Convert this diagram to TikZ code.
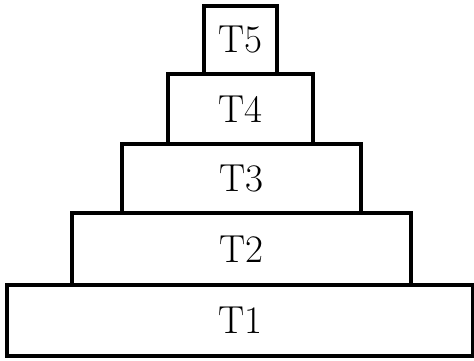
\documentclass[tikz,border=0pt]{standalone}
\usepackage{tikz}
\usetikzlibrary{positioning}
\tikzset{
  tier/.style={rectangle,draw=black,line width=1.6pt,fill=white,
               inner sep=0pt,font=\fontsize{19.5}{23}\selectfont,align=center},
}
\begin{document}
\begin{tikzpicture}[x=0.5pt,y=-0.5pt]

  \useasboundingbox (0,0) rectangle (474,360);

  \foreach \name/\lbl/\x/\y/\w/\h in {
    t1/T1/240/320.5/233/35.5,
    t2/T2/241.5/249/169.5/36,
    t3/T3/241.5/178.5/119.5/34.5,
    t4/T4/240.5/109/72.5/35,
    t5/T5/240.5/40/36.5/34}{
    \node[tier,minimum width=\w pt,minimum height=\h pt] (\name) at (\x,\y) {\lbl};
  }

\end{tikzpicture}
\end{document}
